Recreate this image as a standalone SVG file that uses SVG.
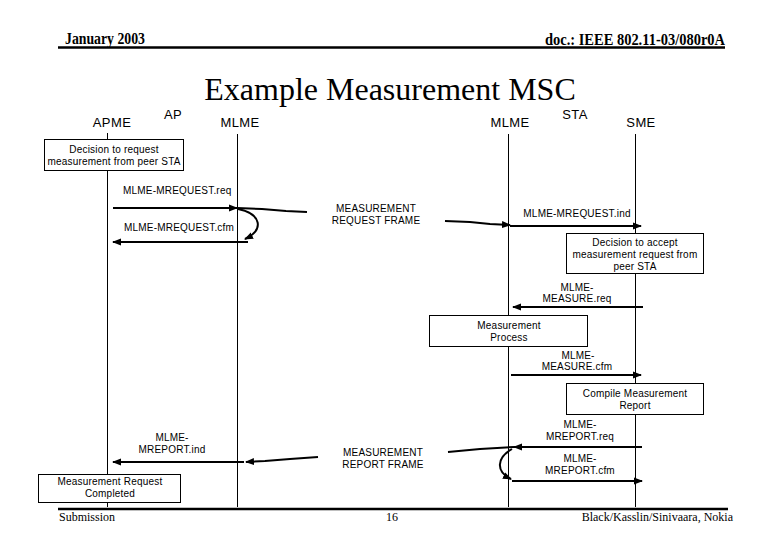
<svg xmlns="http://www.w3.org/2000/svg" width="780" height="540" viewBox="0 0 780 540">
<style>
.hdr{font-family:"Liberation Serif","Times New Roman",serif;font-weight:bold;font-size:16px;fill:#000}
.ftr{font-family:"Liberation Serif","Times New Roman",serif;font-size:12px;fill:#000}
.ttl{font-family:"Liberation Serif","Times New Roman",serif;font-size:32px;fill:#000}
.ent{font-family:"Liberation Sans",Arial,sans-serif;font-size:13px;letter-spacing:0.4px;fill:#000}
.lbl{font-family:"Liberation Sans",Arial,sans-serif;font-size:10px;letter-spacing:0.2px;fill:#000}
.mid{text-anchor:middle}
.life{stroke:#000;stroke-width:1;fill:none}
.box{fill:#fff;stroke:#000;stroke-width:1}
.msg{stroke:#000;stroke-width:2;fill:none}
.rule{stroke:#000;stroke-width:2.5}
</style>
<defs>
<marker id="ah" markerWidth="9" markerHeight="8" refX="8" refY="4" orient="auto" markerUnits="userSpaceOnUse">
<path d="M0,0.5 L9,4 L0,7.5 z" fill="#000"/>
</marker>
</defs>
<rect width="780" height="540" fill="#fff"/>

<g id="header">
<text class="hdr" x="65" y="44" textLength="80" lengthAdjust="spacingAndGlyphs">January 2003</text>
<text class="hdr" x="545" y="45" textLength="180" lengthAdjust="spacingAndGlyphs">doc.: IEEE 802.11-03/080r0A</text>
<line class="rule" x1="58" y1="47.5" x2="725" y2="47.5"/>
<text class="ttl mid" x="390" y="100">Example Measurement MSC</text>
</g>

<g id="lifelines">
<g id="apme"><text class="ent mid" x="112" y="127">APME</text><line class="life" x1="107.5" y1="133" x2="107.5" y2="507"/></g>
<g id="ap"><text class="ent mid" x="173" y="119">AP</text></g>
<g id="ap-mlme"><text class="ent mid" x="240" y="127">MLME</text><line class="life" x1="237.5" y1="134" x2="237.5" y2="507"/></g>
<g id="sta-mlme"><text class="ent mid" x="510" y="127">MLME</text><line class="life" x1="508.5" y1="134" x2="508.5" y2="507"/></g>
<g id="sta"><text class="ent mid" x="575" y="119">STA</text></g>
<g id="sme"><text class="ent mid" x="641" y="127">SME</text><line class="life" x1="635.5" y1="134" x2="635.5" y2="507"/></g>
</g>

<g id="connectors">
<path class="msg" d="M113,208 L237,208" marker-end="url(#ah)"/>
<path class="msg" d="M237,208 L262,209 L286,211 L307,212"/>
<path class="msg" d="M445,221 L470,222 L490,224 L510,225" marker-end="url(#ah)"/>
<path class="msg" d="M510,226 L641,226" marker-end="url(#ah)"/>
<path class="msg" d="M238,209 C262,214 264,230 245,239" marker-end="url(#ah)"/>
<path class="msg" d="M248,242 L113,242" marker-end="url(#ah)"/>
<path class="msg" d="M643,307 L513,307" marker-end="url(#ah)"/>
<path class="msg" d="M511,375 L641,375" marker-end="url(#ah)"/>
<path class="msg" d="M642,447 L514,447" marker-end="url(#ah)"/>
<path class="msg" d="M514,447 L480,449 L448,452"/>
<path class="msg" d="M318,457 L290,459 L265,461 L246,462" marker-end="url(#ah)"/>
<path class="msg" d="M244,462 L113,462" marker-end="url(#ah)"/>
<path class="msg" d="M512,449 C496,458 496,472 511,479" marker-end="url(#ah)"/>
<path class="msg" d="M512,481 L642,481" marker-end="url(#ah)"/>
</g>

<g id="labels">
<text class="lbl" x="123" y="194">MLME-MREQUEST.req</text>
<text class="lbl" x="124" y="231">MLME-MREQUEST.cfm</text>
<text class="lbl mid" x="376" y="212">MEASUREMENT</text>
<text class="lbl mid" x="376" y="224">REQUEST FRAME</text>
<text class="lbl mid" x="577" y="217">MLME-MREQUEST.ind</text>
<text class="lbl mid" x="577" y="291">MLME-</text>
<text class="lbl mid" x="577" y="302">MEASURE.req</text>
<text class="lbl mid" x="578" y="359">MLME-</text>
<text class="lbl mid" x="577" y="370">MEASURE.cfm</text>
<text class="lbl mid" x="580" y="428">MLME-</text>
<text class="lbl mid" x="580" y="440">MREPORT.req</text>
<text class="lbl mid" x="580" y="462">MLME-</text>
<text class="lbl mid" x="580" y="474">MREPORT.cfm</text>
<text class="lbl mid" x="172" y="441">MLME-</text>
<text class="lbl mid" x="172" y="453">MREPORT.ind</text>
<text class="lbl mid" x="383" y="456">MEASUREMENT</text>
<text class="lbl mid" x="383" y="468">REPORT FRAME</text>
</g>

<g id="decision-request">
<rect class="box" x="44.5" y="139.5" width="139" height="31"/>
<text class="lbl mid" x="114" y="153">Decision to request</text>
<text class="lbl mid" x="114" y="165">measurement from peer STA</text>
</g>
<g id="decision-accept">
<rect class="box" x="566.5" y="233.5" width="137" height="40"/>
<text class="lbl mid" x="635" y="246">Decision to accept</text>
<text class="lbl mid" x="635" y="258">measurement request from</text>
<text class="lbl mid" x="635" y="270">peer STA</text>
</g>
<g id="measurement-process">
<rect class="box" x="429.5" y="315.5" width="158" height="31"/>
<text class="lbl mid" x="509" y="329">Measurement</text>
<text class="lbl mid" x="509" y="341">Process</text>
</g>
<g id="compile-report">
<rect class="box" x="566.5" y="383.5" width="137" height="31"/>
<text class="lbl mid" x="635" y="397">Compile Measurement</text>
<text class="lbl mid" x="635" y="409">Report</text>
</g>
<g id="request-completed">
<rect class="box" x="38.5" y="474.5" width="142" height="28"/>
<text class="lbl mid" x="110" y="485">Measurement Request</text>
<text class="lbl mid" x="110" y="497">Completed</text>
</g>

<g id="footer">
<line class="rule" x1="58" y1="509" x2="728" y2="509"/>
<text class="ftr" x="59" y="521">Submission</text>
<text class="ftr mid" x="392" y="521">16</text>
<text class="ftr" x="733" y="521" text-anchor="end">Black/Kasslin/Sinivaara, Nokia</text>
</g>
</svg>
